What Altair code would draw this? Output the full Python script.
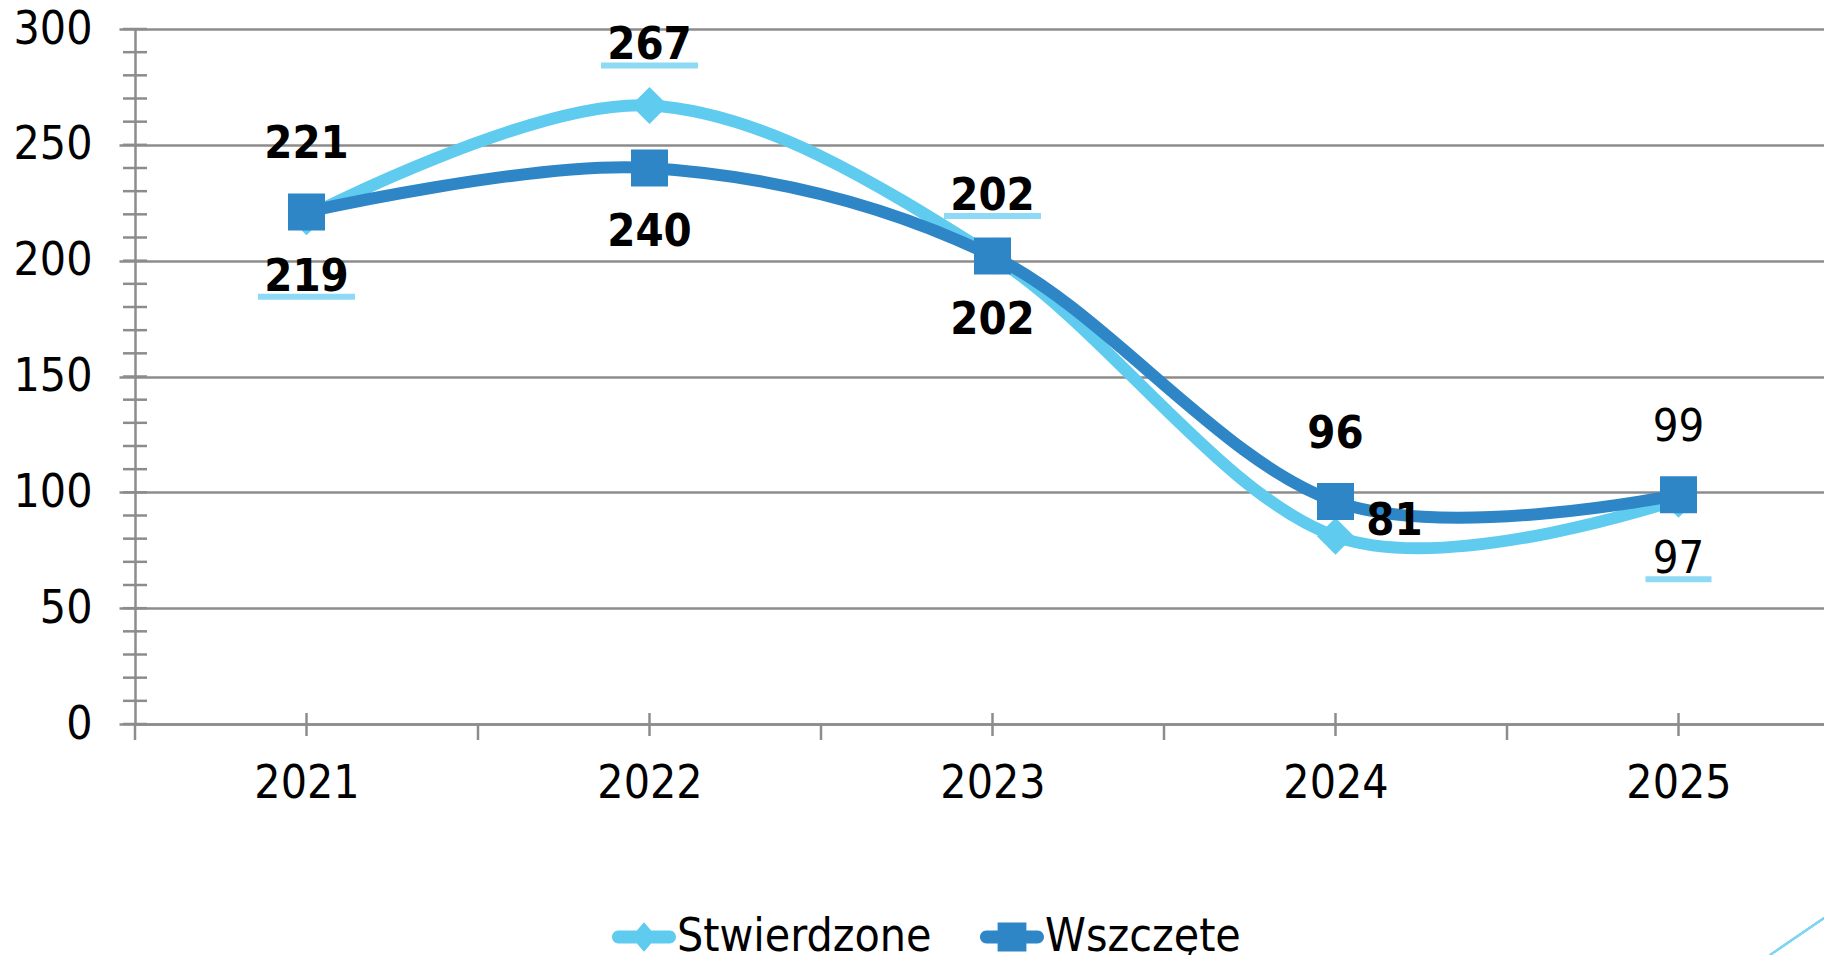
import altair as alt
import pandas as pd

# ---- data ----
years = [2021, 2022, 2023, 2024, 2025]
series_names = ["Stwierdzone", "Wszczęte"]
stwierdzone = [219, 267, 202, 81, 97]
wszczete = [221, 240, 202, 96, 99]
y_tick_values = [0, 50, 100, 150, 200, 250, 300]

# ---- label layout (style, kept apart from the data) ----
stw_label_pos = ["below", "above", "above", "right", "below"]
wsz_label_pos = ["above", "below", "below", "above", "above"]
stw_label_bold = [True, True, True, True, False]
wsz_label_bold = [True, True, True, True, False]
# pixel offsets per series: above, below
label_gap = {"Stwierdzone": (60, 60), "Wszczęte": (68, 64)}

colors = ["#5ECBEF", "#2E86C6"]
GRAY = "#8c8c8c"
FONT = "DejaVu Sans Condensed, DejaVu Sans, sans-serif"

W, H = 1689, 695
STEP = 343  # px per category
px_per_unit = H / 300.0

rows = []
for name, vals, poss, bolds in [
    (series_names[0], stwierdzone, stw_label_pos, stw_label_bold),
    (series_names[1], wszczete, wsz_label_pos, wsz_label_bold),
]:
    up, down = label_gap[name]
    for yr, v, p, b in zip(years, vals, poss, bolds):
        rows.append({"year": yr, "series": name, "value": v, "pos": p,
                     "bold": b, "label": str(v),
                     "up": up / px_per_unit, "down": down / px_per_unit})
df = pd.DataFrame(rows)
ydf = pd.DataFrame({"year": years})

x0 = years[0] - 0.5
xscale = alt.Scale(domain=[x0, x0 + W / STEP], nice=False, zero=False)
yscale = alt.Scale(domain=[0, 300], nice=False, zero=True)

base = alt.Chart(df)

# axes (ticks/labels/grid)
axes = alt.Chart(ydf).mark_point(opacity=0).encode(
    x=alt.X("year:Q", scale=xscale, title=None,
            axis=alt.Axis(values=years, format="d", ticks=False, grid=False,
                          labelFont=FONT, labelFontSize=46, labelColor="black",
                          labelPadding=37, domainColor=GRAY, domainWidth=2.5,
                          labelFlush=False, labelOverlap=False)),
    y=alt.Y("y0:Q", scale=yscale, title=None,
            axis=alt.Axis(values=y_tick_values, tickSize=16, tickColor=GRAY,
                          tickWidth=2.5, grid=True, gridColor=GRAY,
                          gridWidth=2.5, domainColor=GRAY, domainWidth=2.5,
                          labelFont=FONT, labelFontSize=46, labelColor="black",
                          labelPadding=27)),
).transform_calculate(y0="0")

# minor y ticks (every 10, crossing the axis)
minor_y = alt.Chart(alt.sequence(0, 301, 10, as_="m")).mark_rule(
    color=GRAY, strokeWidth=2.5
).encode(y=alt.Y("m:Q", scale=yscale), x=alt.value(-12), x2=alt.value(12))

# x ticks at category centres (crossing) and at boundaries (downward)
x_center_ticks = alt.Chart(ydf).mark_rule(color=GRAY, strokeWidth=2.5).encode(
    x=alt.X("year:Q", scale=xscale), y=alt.value(H - 11), y2=alt.value(H + 12))
x_bound_ticks = alt.Chart(ydf).transform_calculate(b="datum.year - 0.5").mark_rule(
    color=GRAY, strokeWidth=2.5).encode(
    x=alt.X("b:Q", scale=xscale), y=alt.value(H), y2=alt.value(H + 16))


def line_layer(name, color):
    return base.transform_filter(alt.datum.series == name).mark_line(
        interpolate="cardinal", tension=0, strokeWidth=12, color=color,
        strokeCap="round", strokeJoin="round"
    ).encode(x=alt.X("year:Q", scale=xscale), y=alt.Y("value:Q", scale=yscale))


def marker_layer(name, color, shape):
    return base.transform_filter(alt.datum.series == name).mark_point(
        shape=shape, filled=True, size=1369, color=color, opacity=1
    ).encode(x=alt.X("year:Q", scale=xscale), y=alt.Y("value:Q", scale=yscale))


lab = base.transform_calculate(
    ly=f"datum.value + (datum.pos == 'above' ? datum.up : datum.pos == 'below' ? -datum.down : {15 / px_per_unit})",
    lx=f"datum.year + (datum.pos == 'right' ? {59 / STEP} : 0)",
)


def text_layer(bold):
    return lab.transform_filter(alt.datum.bold == bold).mark_text(
        font=FONT, fontSize=45, fontWeight="bold" if bold else "normal",
        color="black", align="center", baseline="middle"
    ).encode(x=alt.X("lx:Q", scale=xscale), y=alt.Y("ly:Q", scale=yscale),
             text="label:N")


underline = lab.transform_filter(
    (alt.datum.series == series_names[0]) & (alt.datum.pos != "right")
).transform_calculate(
    uy=f"datum.ly - {20 / px_per_unit}",
    uw="length(datum.label) * 31 + 4",
).mark_tick(orient="horizontal", thickness=6, color=colors[0]).encode(
    x=alt.X("lx:Q", scale=xscale), y=alt.Y("uy:Q", scale=yscale),
    size=alt.Size("uw:Q", scale=None))

# legend symbols: line with a marker on it
bar = ("M-0.8,-0.2 L0.8,-0.2 A0.2,0.2 0 0 1 0.8,0.2 L-0.8,0.2 "
       "A0.2,0.2 0 0 1 -0.8,-0.2 Z ")
legend_shapes = [bar + "M0,-0.46 L0.4,0 L0,0.46 L-0.4,0 Z",
                 bar + "M-0.45,-0.45 L0.45,-0.45 L0.45,0.45 L-0.45,0.45 Z"]
legend_layer = base.transform_filter("false").mark_point(
    filled=True, size=4096, opacity=1).encode(
    x=alt.X("year:Q", scale=xscale), y=alt.Y("value:Q", scale=yscale),
    color=alt.Color("series:N", scale=alt.Scale(domain=series_names, range=colors),
                    legend=alt.Legend(orient="none", legendX=477, legendY=876,
                                      direction="horizontal", title=None,
                                      symbolSize=4096, symbolOpacity=1,
                                      symbolStrokeWidth=0, labelFont=FONT,
                                      labelFontSize=46, labelColor="black",
                                      labelOffset=1, labelLimit=0,
                                      columnPadding=48, padding=0)),
    shape=alt.Shape("series:N", scale=alt.Scale(domain=series_names,
                                                range=legend_shapes)),
)

deco = alt.Chart(ydf).mark_rule(color="#7FD6F2", strokeWidth=2).encode(
    x=alt.value(1635), x2=alt.value(W), y=alt.value(926), y2=alt.value(889))

chart = alt.layer(
    axes, minor_y, x_center_ticks, x_bound_ticks,
    line_layer(series_names[0], colors[0]),
    line_layer(series_names[1], colors[1]),
    marker_layer(series_names[0], colors[0], "diamond"),
    marker_layer(series_names[1], colors[1], "square"),
    underline, text_layer(True), text_layer(False),
    legend_layer, deco,
).properties(
    width=W, height=H,
    autosize=alt.AutoSizeParams(type="none"),
    padding={"left": 127, "top": 21, "right": 0, "bottom": 231},
).configure_view(stroke=None)

chart.save("out.html", embed_options={"renderer": "svg", "actions": False})
